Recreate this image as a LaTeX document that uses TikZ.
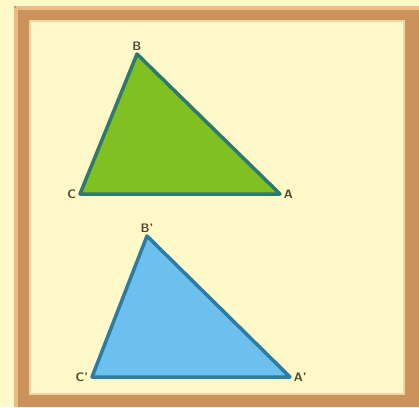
\documentclass[tikz,border=0pt]{standalone}
\definecolor{paper}{RGB}{255, 248, 200}
\definecolor{frametan}{RGB}{204, 146, 92}
\definecolor{framelight}{RGB}{236, 186, 132}
\definecolor{leafgreen}{RGB}{128, 192, 32}
\definecolor{greenedge}{RGB}{46, 122, 110}
\definecolor{skyblue}{RGB}{108, 192, 240}
\definecolor{blueedge}{RGB}{44, 124, 164}
\definecolor{labelink}{RGB}{78, 74, 46}
\usepackage{tikz}

\begin{document}
\begin{tikzpicture}[x=0.02cm, y=-0.02cm]
        \fill[paper] (0,0) rectangle (419,407);
        \useasboundingbox (0,0) rectangle (419,407);
        % frame
        \fill[frametan, even odd rule] (14,6) rectangle (419,407) (29,20) rectangle (405,395);
        \draw[framelight, line width=2pt] (16,8) -- (419,8) (16,8) -- (16,407);
        \draw[framelight!60!paper, line width=1.2pt] (30,21) rectangle (404,394);

        \coordinate (B) at (137,54);
        \coordinate (C) at (80,194);
        \coordinate (A) at (280,194);
        \coordinate (B') at (147,236);
        \coordinate (C') at (92,377);
        \coordinate (A') at (290,377);

        \filldraw[fill=leafgreen, draw=greenedge, line width=2pt, line join=round] (B) -- (C) -- (A) -- cycle;
        \filldraw[fill=skyblue, draw=blueedge, line width=2pt, line join=round] (B') -- (C') -- (A') -- cycle;

        \foreach \v/\pos in {B/above, C/left, A/right, B'/above, C'/left, A'/right} {
          \node[\pos, inner sep=2pt, text=labelink, font=\sffamily\bfseries\scriptsize] (l\v) at (\v) {\v};
        }
      \end{tikzpicture}
\end{document}
